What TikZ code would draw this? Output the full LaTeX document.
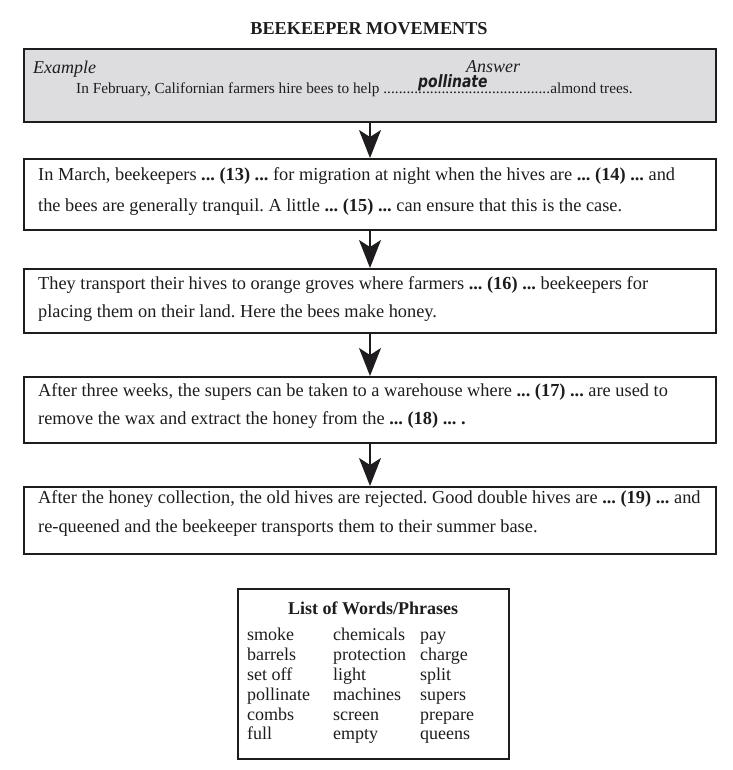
\documentclass[tikz,border=0pt]{standalone}
\usepackage{fontspec}
\setmainfont{Liberation Serif}
\newfontfamily\handfont[FakeStretch=0.82]{DejaVu Sans}
\usetikzlibrary{arrows.meta}
\definecolor{exgray}{RGB}{221,221,223}
\definecolor{ink}{RGB}{30,28,30}
\tikzset{
  stagebox/.style={draw=ink, line width=2pt, rectangle, minimum width=692pt, inner sep=0pt, anchor=north west},
  bodytext/.style={anchor=base west, inner sep=0pt, font=\fontsize{18.35}{21}\selectfont, text=ink},
  flow/.style={draw=ink, line width=1.6pt, -{Stealth[length=28pt,width=22pt,inset=7pt]}},
  wordtext/.style={anchor=base west, inner sep=0pt, font=\fontsize{18}{21}\selectfont, text=ink},
}
\frenchspacing
\begin{document}
\begin{tikzpicture}[x=1pt,y=-1pt]
\useasboundingbox (0,0) rectangle (732,770);
% title
\node[anchor=base, inner sep=0pt, font=\fontsize{18.2}{21}\selectfont\bfseries, text=ink] (title) at (369,35) {BEEKEEPER MOVEMENTS};
% example box
\node[stagebox, fill=exgray, minimum height=73pt] (b1) at (23,48) {};
\node[anchor=base west, inner sep=0pt, font=\fontsize{18}{21}\selectfont\itshape, text=ink] (ex) at (33,74) {Example};
\node[anchor=base, inner sep=0pt, font=\fontsize{18}{21}\selectfont\itshape, text=ink] (ans) at (493,73) {Answer};
\node[anchor=base west, inner sep=0pt, font=\fontsize{15.3}{18}\selectfont, text=ink] (exline) at (76,94)
  {In February, Californian farmers hire bees to help \hbox to 167pt{\xleaders\hbox{.}\hfill}almond trees.};
\node[anchor=base west, inner sep=0pt, font=\handfont\fontsize{17}{20}\selectfont\bfseries\itshape, text=ink] (poll) at (418,88) {pollinate};
% box 2
\node[stagebox, minimum height=71pt] (b2) at (23,158) {};
\node[bodytext] (t2a) at (38,180) {In March, beekeepers \textbf{... (13) ...} for migration at night when the hives are \textbf{... (14) ...} and};
\node[bodytext] (t2b) at (38,211) {the bees are generally tranquil. A little \textbf{... (15) ...} can ensure that this is the case.};
% box 3
\node[stagebox, minimum height=64pt] (b3) at (23,268) {};
\node[bodytext] (t3a) at (38,289) {They transport their hives to orange groves where farmers \textbf{... (16) ...} beekeepers for};
\node[bodytext] (t3b) at (38,317) {placing them on their land. Here the bees make honey.};
% box 4
\node[stagebox, minimum height=66pt] (b4) at (23,376) {};
\node[bodytext] (t4a) at (38,396) {After three weeks, the supers can be taken to a warehouse where \textbf{... (17) ...} are used to};
\node[bodytext] (t4b) at (38,424) {remove the wax and extract the honey from the \textbf{... (18) ... .}};
% box 5
\node[stagebox, minimum height=67pt] (b5) at (23,486) {};
\node[bodytext] (t5a) at (38,503) {After the honey collection, the old hives are rejected. Good double hives are \textbf{... (19) ...} and};
\node[bodytext] (t5b) at (38,532) {re-queened and the beekeeper transports them to their summer base.};
% connectors
\draw[flow] (b1.south) -- (b2.north);
\draw[flow] (b2.south) -- (b3.north);
\draw[flow] (b3.south) -- (b4.north);
\draw[flow] (b4.south) -- (b5.north);
% word list
\node[draw=ink, line width=2pt, rectangle, minimum width=271pt, minimum height=170pt, inner sep=0pt, anchor=north west] (wl) at (237,588) {};
\node[anchor=base, inner sep=0pt, font=\fontsize{18}{21}\selectfont\bfseries, text=ink] (wlt) at (373,614) {List of Words/Phrases};
\foreach \a/\b/\c [count=\i] in {smoke/chemicals/pay, barrels/protection/charge, set off/light/split, pollinate/machines/supers, combs/screen/prepare, full/empty/queens}{
  \node[wordtext] (wa\i) at (247,621+19.8*\i) {\a};
  \node[wordtext] (wb\i) at (333,621+19.8*\i) {\b};
  \node[wordtext] (wc\i) at (420,621+19.8*\i) {\c};
}
\end{tikzpicture}
\end{document}
